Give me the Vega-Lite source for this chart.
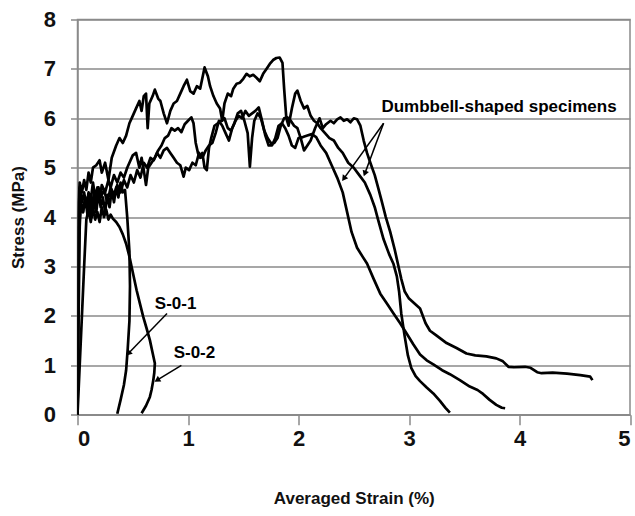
{
  "$schema": "https://vega.github.io/schema/vega-lite/v6.json",
  "width": 552.5,
  "height": 395.2,
  "autosize": {"type": "none"},
  "padding": {"left": 77.5, "top": 19.5, "right": 5, "bottom": 101.3},
  "background": "white",
  "config": {
    "view": {"stroke": "#8a8a8a", "strokeWidth": 1.5},
    "font": "Liberation Sans",
    "axis": {
      "labelFont": "Liberation Sans",
      "titleFont": "Liberation Sans",
      "labelColor": "#111",
      "titleColor": "#111",
      "domainColor": "#8a8a8a",
      "tickColor": "#8a8a8a",
      "gridColor": "#8a8a8a",
      "domainWidth": 1.5,
      "tickWidth": 1.5,
      "gridWidth": 1.5
    }
  },
  "datasets": {
    "curves": [
      {"s":"A","x":0,"y":0},{"s":"A","x":0.005,"y":2.5},{"s":"A","x":0.01,"y":4.3},{"s":"A","x":0.02,"y":4.7},{"s":"A","x":0.04,"y":4.5},{"s":"A","x":0.06,"y":4.75},{"s":"A","x":0.08,"y":4.55},{"s":"A","x":0.1,"y":4.9},{"s":"A","x":0.12,"y":4.7},{"s":"A","x":0.14,"y":5.0},{"s":"A","x":0.17,"y":5.05},{"s":"A","x":0.2,"y":5.15},{"s":"A","x":0.22,"y":4.9},{"s":"A","x":0.25,"y":5.1},{"s":"A","x":0.28,"y":4.75},{"s":"A","x":0.31,"y":5.2},{"s":"A","x":0.35,"y":5.45},{"s":"A","x":0.38,"y":5.6},{"s":"A","x":0.41,"y":5.5},{"s":"A","x":0.44,"y":5.65},{"s":"A","x":0.47,"y":5.9},{"s":"A","x":0.5,"y":6.05},{"s":"A","x":0.53,"y":6.2},{"s":"A","x":0.56,"y":6.35},{"s":"A","x":0.58,"y":6.15},{"s":"A","x":0.6,"y":6.45},{"s":"A","x":0.62,"y":6.5},{"s":"A","x":0.635,"y":5.8},{"s":"A","x":0.65,"y":6.3},{"s":"A","x":0.68,"y":6.45},{"s":"A","x":0.7,"y":6.58},{"s":"A","x":0.73,"y":6.4},{"s":"A","x":0.75,"y":6.35},{"s":"A","x":0.78,"y":6.1},{"s":"A","x":0.81,"y":5.9},{"s":"A","x":0.84,"y":6.15},{"s":"A","x":0.87,"y":6.3},{"s":"A","x":0.9,"y":6.35},{"s":"A","x":0.93,"y":6.5},{"s":"A","x":0.96,"y":6.65},{"s":"A","x":0.99,"y":6.78},{"s":"A","x":1.02,"y":6.55},{"s":"A","x":1.05,"y":6.5},{"s":"A","x":1.08,"y":6.65},{"s":"A","x":1.11,"y":6.6},{"s":"A","x":1.15,"y":7.03},{"s":"A","x":1.18,"y":6.85},{"s":"A","x":1.2,"y":6.65},{"s":"A","x":1.23,"y":6.45},{"s":"A","x":1.26,"y":6.3},{"s":"A","x":1.29,"y":6.2},{"s":"A","x":1.31,"y":5.95},{"s":"A","x":1.33,"y":6.3},{"s":"A","x":1.36,"y":6.5},{"s":"A","x":1.39,"y":6.45},{"s":"A","x":1.41,"y":6.6},{"s":"A","x":1.44,"y":6.7},{"s":"A","x":1.47,"y":6.72},{"s":"A","x":1.5,"y":6.8},{"s":"A","x":1.53,"y":6.9},{"s":"A","x":1.56,"y":6.85},{"s":"A","x":1.59,"y":6.88},{"s":"A","x":1.62,"y":6.82},{"s":"A","x":1.65,"y":6.75},{"s":"A","x":1.68,"y":6.9},{"s":"A","x":1.71,"y":7.0},{"s":"A","x":1.74,"y":7.1},{"s":"A","x":1.77,"y":7.18},{"s":"A","x":1.8,"y":7.22},{"s":"A","x":1.83,"y":7.23},{"s":"A","x":1.855,"y":7.12},{"s":"A","x":1.87,"y":6.6},{"s":"A","x":1.89,"y":6.0},{"s":"A","x":1.91,"y":5.85},{"s":"A","x":1.94,"y":6.2},{"s":"A","x":1.97,"y":6.5},{"s":"A","x":1.99,"y":6.56},{"s":"A","x":2.02,"y":6.35},{"s":"A","x":2.05,"y":6.2},{"s":"A","x":2.08,"y":6.25},{"s":"A","x":2.11,"y":6.05},{"s":"A","x":2.14,"y":5.95},{"s":"A","x":2.17,"y":5.9},{"s":"A","x":2.2,"y":5.8},{"s":"A","x":2.24,"y":5.7},{"s":"A","x":2.28,"y":5.6},{"s":"A","x":2.32,"y":5.55},{"s":"A","x":2.36,"y":5.4},{"s":"A","x":2.4,"y":5.3},{"s":"A","x":2.45,"y":5.1},{"s":"A","x":2.5,"y":5.0},{"s":"A","x":2.55,"y":4.85},{"s":"A","x":2.6,"y":4.7},{"s":"A","x":2.65,"y":4.45},{"s":"A","x":2.69,"y":4.2},{"s":"A","x":2.72,"y":3.95},{"s":"A","x":2.77,"y":3.55},{"s":"A","x":2.82,"y":3.25},{"s":"A","x":2.86,"y":3.05},{"s":"A","x":2.89,"y":2.8},{"s":"A","x":2.91,"y":2.5},{"s":"A","x":2.93,"y":2.05},{"s":"A","x":2.96,"y":1.6},{"s":"A","x":2.99,"y":1.2},{"s":"A","x":3.02,"y":0.95},{"s":"A","x":3.06,"y":0.78},{"s":"A","x":3.1,"y":0.68},{"s":"A","x":3.16,"y":0.55},{"s":"A","x":3.22,"y":0.43},{"s":"A","x":3.28,"y":0.28},{"s":"A","x":3.33,"y":0.14},{"s":"A","x":3.37,"y":0.04},

      {"s":"B","x":0,"y":0},{"s":"B","x":0.005,"y":2.0},{"s":"B","x":0.01,"y":4.0},{"s":"B","x":0.02,"y":4.6},{"s":"B","x":0.04,"y":4.3},{"s":"B","x":0.06,"y":4.5},{"s":"B","x":0.08,"y":4.2},{"s":"B","x":0.1,"y":4.5},{"s":"B","x":0.12,"y":4.35},{"s":"B","x":0.14,"y":4.7},{"s":"B","x":0.16,"y":4.4},{"s":"B","x":0.18,"y":4.6},{"s":"B","x":0.2,"y":4.35},{"s":"B","x":0.22,"y":4.65},{"s":"B","x":0.25,"y":4.5},{"s":"B","x":0.28,"y":4.75},{"s":"B","x":0.3,"y":4.6},{"s":"B","x":0.33,"y":4.85},{"s":"B","x":0.36,"y":4.7},{"s":"B","x":0.39,"y":4.9},{"s":"B","x":0.42,"y":4.8},{"s":"B","x":0.45,"y":5.0},{"s":"B","x":0.48,"y":5.15},{"s":"B","x":0.5,"y":5.25},{"s":"B","x":0.53,"y":5.3},{"s":"B","x":0.56,"y":5.0},{"s":"B","x":0.58,"y":5.2},{"s":"B","x":0.6,"y":4.95},{"s":"B","x":0.62,"y":4.65},{"s":"B","x":0.64,"y":5.0},{"s":"B","x":0.67,"y":5.1},{"s":"B","x":0.7,"y":5.2},{"s":"B","x":0.73,"y":5.35},{"s":"B","x":0.76,"y":5.45},{"s":"B","x":0.79,"y":5.6},{"s":"B","x":0.82,"y":5.65},{"s":"B","x":0.85,"y":5.8},{"s":"B","x":0.88,"y":5.75},{"s":"B","x":0.91,"y":5.8},{"s":"B","x":0.94,"y":5.72},{"s":"B","x":0.97,"y":5.88},{"s":"B","x":1.0,"y":5.95},{"s":"B","x":1.03,"y":6.02},{"s":"B","x":1.05,"y":5.9},{"s":"B","x":1.07,"y":5.5},{"s":"B","x":1.09,"y":5.3},{"s":"B","x":1.11,"y":5.2},{"s":"B","x":1.13,"y":5.3},{"s":"B","x":1.15,"y":5.0},{"s":"B","x":1.17,"y":4.95},{"s":"B","x":1.19,"y":5.4},{"s":"B","x":1.21,"y":5.6},{"s":"B","x":1.24,"y":5.85},{"s":"B","x":1.27,"y":5.9},{"s":"B","x":1.3,"y":5.95},{"s":"B","x":1.33,"y":6.0},{"s":"B","x":1.36,"y":5.8},{"s":"B","x":1.39,"y":5.75},{"s":"B","x":1.42,"y":5.9},{"s":"B","x":1.45,"y":6.1},{"s":"B","x":1.48,"y":6.15},{"s":"B","x":1.51,"y":5.95},{"s":"B","x":1.54,"y":5.7},{"s":"B","x":1.56,"y":5.02},{"s":"B","x":1.58,"y":5.6},{"s":"B","x":1.6,"y":5.95},{"s":"B","x":1.63,"y":6.1},{"s":"B","x":1.66,"y":6.0},{"s":"B","x":1.69,"y":5.75},{"s":"B","x":1.72,"y":5.6},{"s":"B","x":1.75,"y":5.5},{"s":"B","x":1.78,"y":5.5},{"s":"B","x":1.81,"y":5.6},{"s":"B","x":1.84,"y":5.85},{"s":"B","x":1.87,"y":6.0},{"s":"B","x":1.9,"y":6.02},{"s":"B","x":1.93,"y":5.95},{"s":"B","x":1.96,"y":5.85},{"s":"B","x":1.99,"y":5.8},{"s":"B","x":2.02,"y":5.6},{"s":"B","x":2.05,"y":5.35},{"s":"B","x":2.08,"y":5.45},{"s":"B","x":2.11,"y":5.55},{"s":"B","x":2.15,"y":5.8},{"s":"B","x":2.19,"y":6.0},{"s":"B","x":2.22,"y":5.8},{"s":"B","x":2.25,"y":5.88},{"s":"B","x":2.29,"y":5.95},{"s":"B","x":2.32,"y":5.9},{"s":"B","x":2.35,"y":5.98},{"s":"B","x":2.38,"y":6.02},{"s":"B","x":2.41,"y":5.95},{"s":"B","x":2.44,"y":5.98},{"s":"B","x":2.47,"y":5.92},{"s":"B","x":2.5,"y":6.0},{"s":"B","x":2.53,"y":5.98},{"s":"B","x":2.56,"y":5.85},{"s":"B","x":2.59,"y":5.55},{"s":"B","x":2.62,"y":5.3},{"s":"B","x":2.65,"y":5.1},{"s":"B","x":2.69,"y":4.85},{"s":"B","x":2.72,"y":4.6},{"s":"B","x":2.75,"y":4.35},{"s":"B","x":2.79,"y":4.0},{"s":"B","x":2.83,"y":3.7},{"s":"B","x":2.87,"y":3.35},{"s":"B","x":2.9,"y":3.05},{"s":"B","x":2.93,"y":2.75},{"s":"B","x":2.96,"y":2.5},{"s":"B","x":3.0,"y":2.35},{"s":"B","x":3.05,"y":2.25},{"s":"B","x":3.1,"y":2.15},{"s":"B","x":3.15,"y":1.85},{"s":"B","x":3.19,"y":1.7},{"s":"B","x":3.25,"y":1.6},{"s":"B","x":3.34,"y":1.45},{"s":"B","x":3.43,"y":1.35},{"s":"B","x":3.52,"y":1.24},{"s":"B","x":3.6,"y":1.2},{"s":"B","x":3.7,"y":1.18},{"s":"B","x":3.79,"y":1.14},{"s":"B","x":3.85,"y":1.08},{"s":"B","x":3.9,"y":0.97},{"s":"B","x":3.95,"y":0.96},{"s":"B","x":4.05,"y":0.97},{"s":"B","x":4.1,"y":0.95},{"s":"B","x":4.16,"y":0.86},{"s":"B","x":4.2,"y":0.84},{"s":"B","x":4.3,"y":0.85},{"s":"B","x":4.43,"y":0.83},{"s":"B","x":4.55,"y":0.8},{"s":"B","x":4.64,"y":0.77},{"s":"B","x":4.66,"y":0.7},

      {"s":"C","x":0,"y":0},{"s":"C","x":0.005,"y":2.0},{"s":"C","x":0.015,"y":3.8},{"s":"C","x":0.03,"y":4.3},{"s":"C","x":0.05,"y":4.1},{"s":"C","x":0.07,"y":4.4},{"s":"C","x":0.09,"y":4.15},{"s":"C","x":0.11,"y":4.45},{"s":"C","x":0.13,"y":4.2},{"s":"C","x":0.15,"y":4.5},{"s":"C","x":0.17,"y":4.3},{"s":"C","x":0.19,"y":4.6},{"s":"C","x":0.21,"y":4.4},{"s":"C","x":0.24,"y":4.55},{"s":"C","x":0.27,"y":4.3},{"s":"C","x":0.3,"y":4.6},{"s":"C","x":0.33,"y":4.45},{"s":"C","x":0.36,"y":4.65},{"s":"C","x":0.39,"y":4.5},{"s":"C","x":0.42,"y":4.75},{"s":"C","x":0.45,"y":4.6},{"s":"C","x":0.48,"y":4.85},{"s":"C","x":0.51,"y":4.7},{"s":"C","x":0.54,"y":4.95},{"s":"C","x":0.57,"y":4.8},{"s":"C","x":0.6,"y":5.1},{"s":"C","x":0.63,"y":5.0},{"s":"C","x":0.66,"y":5.2},{"s":"C","x":0.69,"y":5.15},{"s":"C","x":0.72,"y":5.3},{"s":"C","x":0.75,"y":5.2},{"s":"C","x":0.78,"y":5.35},{"s":"C","x":0.81,"y":5.4},{"s":"C","x":0.84,"y":5.3},{"s":"C","x":0.87,"y":5.2},{"s":"C","x":0.9,"y":5.1},{"s":"C","x":0.93,"y":5.05},{"s":"C","x":0.96,"y":4.82},{"s":"C","x":0.98,"y":5.0},{"s":"C","x":1.01,"y":4.95},{"s":"C","x":1.04,"y":5.1},{"s":"C","x":1.07,"y":5.05},{"s":"C","x":1.1,"y":5.3},{"s":"C","x":1.13,"y":5.2},{"s":"C","x":1.16,"y":5.35},{"s":"C","x":1.19,"y":5.45},{"s":"C","x":1.22,"y":5.5},{"s":"C","x":1.25,"y":5.7},{"s":"C","x":1.28,"y":5.95},{"s":"C","x":1.31,"y":5.85},{"s":"C","x":1.34,"y":5.7},{"s":"C","x":1.37,"y":5.55},{"s":"C","x":1.4,"y":5.8},{"s":"C","x":1.43,"y":5.95},{"s":"C","x":1.46,"y":6.05},{"s":"C","x":1.49,"y":6.0},{"s":"C","x":1.52,"y":6.15},{"s":"C","x":1.55,"y":6.05},{"s":"C","x":1.58,"y":6.1},{"s":"C","x":1.61,"y":6.15},{"s":"C","x":1.64,"y":6.22},{"s":"C","x":1.67,"y":5.95},{"s":"C","x":1.7,"y":5.65},{"s":"C","x":1.73,"y":5.45},{"s":"C","x":1.76,"y":5.45},{"s":"C","x":1.79,"y":5.6},{"s":"C","x":1.82,"y":5.85},{"s":"C","x":1.85,"y":5.9},{"s":"C","x":1.88,"y":5.8},{"s":"C","x":1.91,"y":5.65},{"s":"C","x":1.94,"y":5.45},{"s":"C","x":1.97,"y":5.4},{"s":"C","x":2.0,"y":5.6},{"s":"C","x":2.04,"y":5.62},{"s":"C","x":2.08,"y":5.65},{"s":"C","x":2.12,"y":5.68},{"s":"C","x":2.16,"y":5.62},{"s":"C","x":2.2,"y":5.45},{"s":"C","x":2.25,"y":5.3},{"s":"C","x":2.3,"y":5.05},{"s":"C","x":2.35,"y":4.8},{"s":"C","x":2.4,"y":4.5},{"s":"C","x":2.44,"y":4.1},{"s":"C","x":2.48,"y":3.7},{"s":"C","x":2.53,"y":3.38},{"s":"C","x":2.58,"y":3.2},{"s":"C","x":2.62,"y":3.06},{"s":"C","x":2.68,"y":2.75},{"s":"C","x":2.74,"y":2.45},{"s":"C","x":2.8,"y":2.25},{"s":"C","x":2.86,"y":2.05},{"s":"C","x":2.92,"y":1.85},{"s":"C","x":2.98,"y":1.64},{"s":"C","x":3.04,"y":1.42},{"s":"C","x":3.1,"y":1.22},{"s":"C","x":3.16,"y":1.1},{"s":"C","x":3.22,"y":1.02},{"s":"C","x":3.3,"y":0.9},{"s":"C","x":3.37,"y":0.82},{"s":"C","x":3.46,"y":0.7},{"s":"C","x":3.55,"y":0.57},{"s":"C","x":3.62,"y":0.5},{"s":"C","x":3.67,"y":0.42},{"s":"C","x":3.73,"y":0.3},{"s":"C","x":3.79,"y":0.2},{"s":"C","x":3.84,"y":0.14},{"s":"C","x":3.87,"y":0.13},

      {"s":"S1","x":0,"y":0},{"s":"S1","x":0.01,"y":2.0},{"s":"S1","x":0.02,"y":3.8},{"s":"S1","x":0.03,"y":4.3},{"s":"S1","x":0.05,"y":4.1},{"s":"S1","x":0.07,"y":4.4},{"s":"S1","x":0.09,"y":4.05},{"s":"S1","x":0.11,"y":4.3},{"s":"S1","x":0.13,"y":4.0},{"s":"S1","x":0.15,"y":4.35},{"s":"S1","x":0.17,"y":4.1},{"s":"S1","x":0.19,"y":4.5},{"s":"S1","x":0.21,"y":4.2},{"s":"S1","x":0.23,"y":4.4},{"s":"S1","x":0.25,"y":4.1},{"s":"S1","x":0.27,"y":4.45},{"s":"S1","x":0.29,"y":4.2},{"s":"S1","x":0.31,"y":4.55},{"s":"S1","x":0.33,"y":4.3},{"s":"S1","x":0.35,"y":4.6},{"s":"S1","x":0.37,"y":4.4},{"s":"S1","x":0.39,"y":4.7},{"s":"S1","x":0.41,"y":4.5},{"s":"S1","x":0.43,"y":4.55},{"s":"S1","x":0.45,"y":4.0},{"s":"S1","x":0.47,"y":3.3},{"s":"S1","x":0.475,"y":2.6},{"s":"S1","x":0.47,"y":1.9},{"s":"S1","x":0.455,"y":1.35},{"s":"S1","x":0.44,"y":0.9},{"s":"S1","x":0.42,"y":0.6},{"s":"S1","x":0.39,"y":0.3},{"s":"S1","x":0.36,"y":0.02},

      {"s":"S2","x":0,"y":0},{"s":"S2","x":0.02,"y":1.0},{"s":"S2","x":0.04,"y":2.0},{"s":"S2","x":0.06,"y":3.0},{"s":"S2","x":0.08,"y":3.95},{"s":"S2","x":0.1,"y":4.15},{"s":"S2","x":0.12,"y":3.9},{"s":"S2","x":0.14,"y":4.2},{"s":"S2","x":0.16,"y":3.95},{"s":"S2","x":0.18,"y":4.1},{"s":"S2","x":0.2,"y":3.9},{"s":"S2","x":0.22,"y":4.2},{"s":"S2","x":0.24,"y":4.0},{"s":"S2","x":0.26,"y":4.15},{"s":"S2","x":0.28,"y":3.95},{"s":"S2","x":0.3,"y":4.05},{"s":"S2","x":0.32,"y":3.97},{"s":"S2","x":0.35,"y":3.9},{"s":"S2","x":0.38,"y":3.8},{"s":"S2","x":0.41,"y":3.65},{"s":"S2","x":0.44,"y":3.46},{"s":"S2","x":0.47,"y":3.2},{"s":"S2","x":0.49,"y":2.99},{"s":"S2","x":0.535,"y":2.52},{"s":"S2","x":0.565,"y":2.25},{"s":"S2","x":0.595,"y":1.98},{"s":"S2","x":0.625,"y":1.75},{"s":"S2","x":0.655,"y":1.51},{"s":"S2","x":0.68,"y":1.25},{"s":"S2","x":0.7,"y":1.04},{"s":"S2","x":0.695,"y":0.85},{"s":"S2","x":0.686,"y":0.7},{"s":"S2","x":0.67,"y":0.5},{"s":"S2","x":0.655,"y":0.36},{"s":"S2","x":0.62,"y":0.18},{"s":"S2","x":0.58,"y":0.03}
    ],
    "arrows": [
      {"a":"d1","x":2.77,"y":5.9,"x2":2.41,"y2":4.78},
      {"a":"d2","x":2.77,"y":5.9,"x2":2.6,"y2":4.88},
      {"a":"s1","x":0.81,"y":2.05,"x2":0.46,"y2":1.24},
      {"a":"s2","x":0.94,"y":1.0,"x2":0.72,"y2":0.7}
    ],
    "labels": [
      {"t":"Dumbbell-shaped specimens","x":2.75,"y":6.22},
      {"t":"S-0-1","x":0.7,"y":2.25},
      {"t":"S-0-2","x":0.87,"y":1.25}
    ]
  },
  "layer": [
    {
      "data": {"name": "curves"},
      "mark": {"type": "line", "color": "#000", "strokeWidth": 2.7, "strokeJoin": "round", "clip": true},
      "encoding": {
        "x": {"field": "x", "type": "quantitative", "scale": {"domain": [0, 5], "nice": false},
          "axis": {"title": "Averaged Strain (%)", "values": [0,1,2,3,4,5], "format": "d", "grid": false, "tickSize": 10, "labelFontSize": 22, "labelFontWeight": "bold", "labelPadding": 4, "titleFontSize": 17, "titleFontWeight": "bold", "titlePadding": 41}},
        "y": {"field": "y", "type": "quantitative", "scale": {"domain": [0, 8], "nice": false},
          "axis": {"title": "Stress (MPa)", "values": [0,1,2,3,4,5,6,7,8], "format": "d", "grid": true, "tickSize": 7, "labelFontSize": 22, "labelFontWeight": "bold", "labelPadding": 15, "titleFontSize": 17, "titleFontWeight": "bold", "titlePadding": 16}},
        "detail": {"field": "s"},
        "order": {"value": null}
      }
    },
    {
      "data": {"name": "arrows"},
      "mark": {"type": "rule", "color": "#000", "strokeWidth": 1.5},
      "encoding": {
        "x": {"field": "x", "type": "quantitative"},
        "y": {"field": "y", "type": "quantitative"},
        "x2": {"field": "x2"},
        "y2": {"field": "y2"}
      }
    },
    {
      "data": {"name": "arrows"},
      "transform": [{"filter": "datum.a == 'd1'"}],
      "mark": {"type": "point", "shape": "triangle-up", "filled": true, "color": "#000", "size": 45, "angle": 215.7, "opacity": 1},
      "encoding": {"x": {"field": "x2", "type": "quantitative"}, "y": {"field": "y2", "type": "quantitative"}}
    },
    {
      "data": {"name": "arrows"},
      "transform": [{"filter": "datum.a == 'd2'"}],
      "mark": {"type": "point", "shape": "triangle-up", "filled": true, "color": "#000", "size": 45, "angle": 200.5, "opacity": 1},
      "encoding": {"x": {"field": "x2", "type": "quantitative"}, "y": {"field": "y2", "type": "quantitative"}}
    },
    {
      "data": {"name": "arrows"},
      "transform": [{"filter": "datum.a == 's1'"}],
      "mark": {"type": "point", "shape": "triangle-up", "filled": true, "color": "#000", "size": 45, "angle": 224, "opacity": 1},
      "encoding": {"x": {"field": "x2", "type": "quantitative"}, "y": {"field": "y2", "type": "quantitative"}}
    },
    {
      "data": {"name": "arrows"},
      "transform": [{"filter": "datum.a == 's2'"}],
      "mark": {"type": "point", "shape": "triangle-up", "filled": true, "color": "#000", "size": 45, "angle": 238.7, "opacity": 1},
      "encoding": {"x": {"field": "x2", "type": "quantitative"}, "y": {"field": "y2", "type": "quantitative"}}
    },
    {
      "data": {"name": "labels"},
      "mark": {"type": "text", "align": "left", "baseline": "middle", "fontSize": 17, "fontWeight": "bold", "color": "#000"},
      "encoding": {
        "x": {"field": "x", "type": "quantitative"},
        "y": {"field": "y", "type": "quantitative"},
        "text": {"field": "t"}
      }
    }
  ]
}
